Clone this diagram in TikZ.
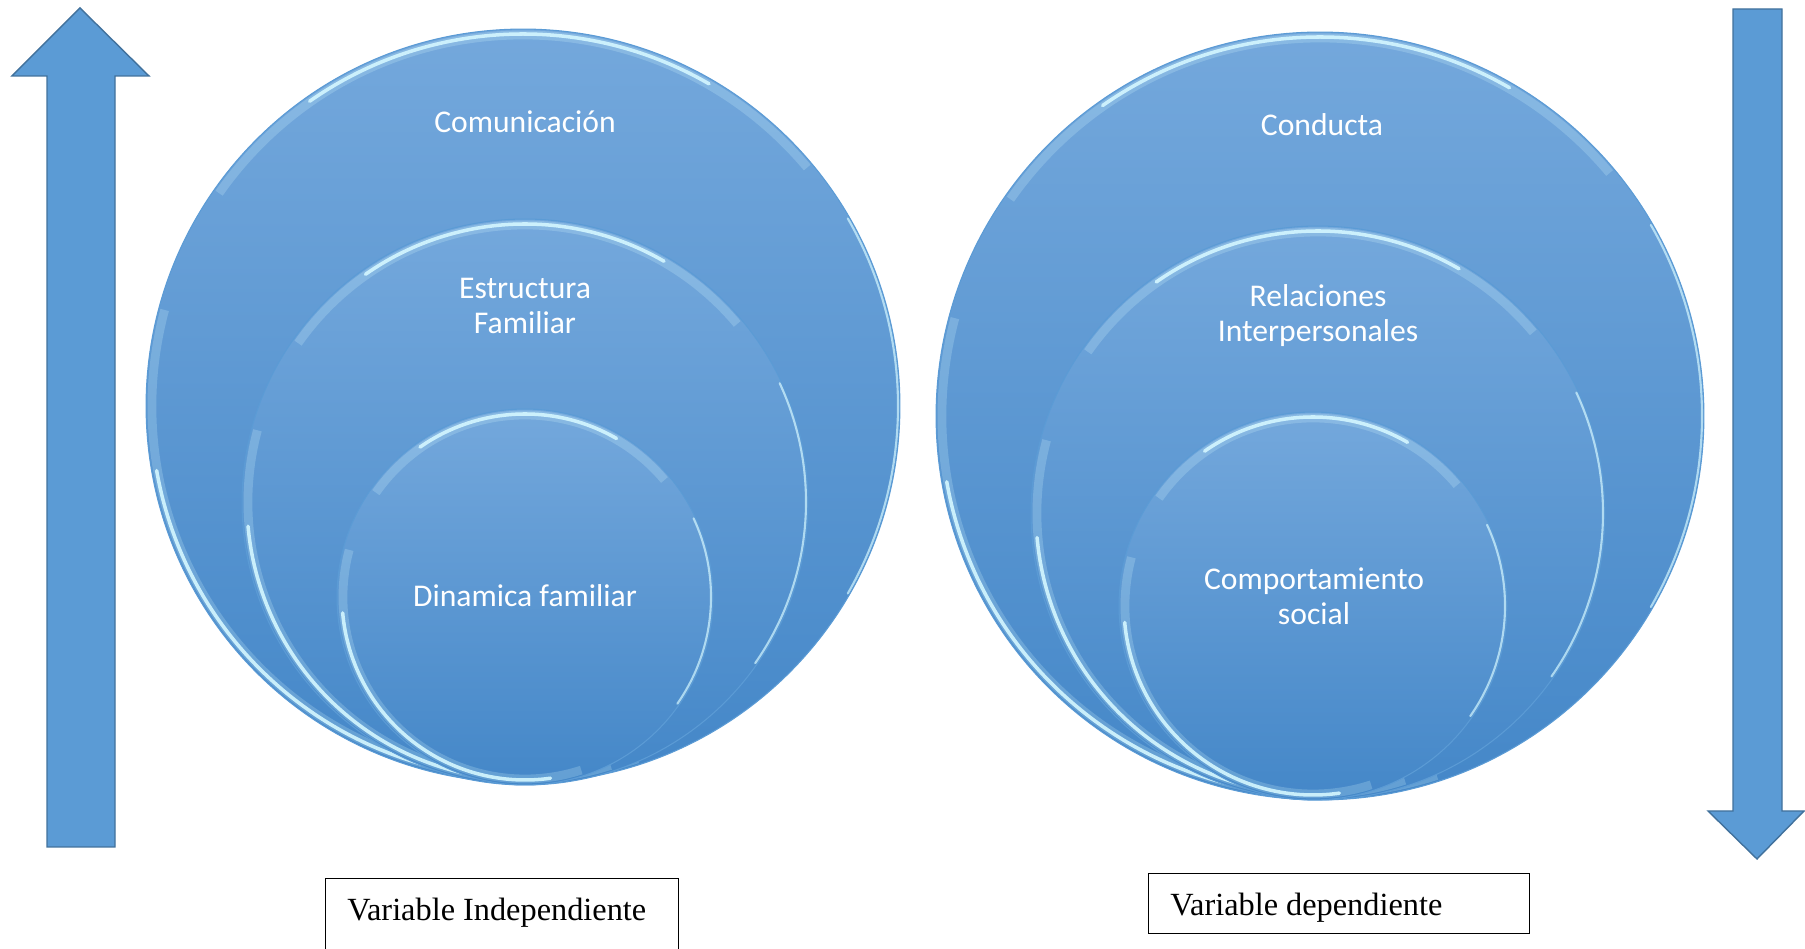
\documentclass[tikz,border=0pt]{standalone}
\usepackage{fontspec}
\setmainfont{Liberation Serif}
\newfontfamily\circfont{Carlito}
\usetikzlibrary{calc}

\definecolor{arrowfill}{HTML}{5B9BD5}
\definecolor{arrowline}{HTML}{41719C}
\definecolor{ringtop}{HTML}{74A8DC}
\definecolor{ringbottom}{HTML}{4487C8}
\definecolor{ringedge}{HTML}{5B9BD5}
\definecolor{glosscol}{HTML}{D4F7FF}

\tikzset{
  ring/.style={circle, draw=ringedge, line width=0.6pt, top color=ringtop, bottom color=ringbottom, inner sep=0pt, outer sep=0pt},
  halo/.style={draw=glosscol, line width=5pt, line cap=butt, opacity=0.22},
  gloss/.style={draw=glosscol, line width=2pt, line cap=round, opacity=0.9},
  softgloss/.style={draw=glosscol, line width=1.2pt, line cap=round, opacity=0.7},
  lbl/.style={text=white, font=\circfont\fontsize{18}{20}\selectfont, align=center},
  varbox/.style={draw=black, line width=0.7pt, inner sep=0pt, anchor=north west},
  vartext/.style={font=\fontsize{18.4}{21}\selectfont, anchor=base west, inner sep=0pt},
  bigarrow/.style={fill=arrowfill, draw=arrowline, line width=0.8pt, line join=miter}
}

\begin{document}
\begin{tikzpicture}[x=0.02cm, y=0.02cm]
    \useasboundingbox (0,0) rectangle (1805,949);
    \clip (0,0) rectangle (1805,949);

    % arrows
    \draw[bigarrow] (80,941) -- (149,873) -- (115,873) -- (115,102) -- (47,102) -- (47,873) -- (12,873) -- cycle;
    \draw[bigarrow] (1733,940) -- (1782,940) -- (1782,138) -- (1804,138) -- (1757,90) -- (1708,138) -- (1733,138) -- cycle;

    % left circles
    \node[ring, minimum size=15.08cm] (Lbig) at (523,543) {};
    \draw[halo] ([shift={(165:371)}]Lbig.center) arc[start angle=165, end angle=288, radius=371];
    \draw[halo] ([shift={(40:371)}]Lbig.center) arc[start angle=40, end angle=145, radius=371];
    \draw[gloss] ([shift={(190:372)}]Lbig.center) arc[start angle=190, end angle=278, radius=372];
    \draw[gloss] ([shift={(60:372)}]Lbig.center) arc[start angle=60, end angle=125, radius=372];
    \draw[softgloss] ([shift={(-30:375)}]Lbig.center) arc[start angle=-30, end angle=30, radius=375];
    \node[ring, minimum size=11.32cm] (Lmid) at (525,447) {};
    \draw[halo] ([shift={(165:277)}]Lmid.center) arc[start angle=165, end angle=288, radius=277];
    \draw[halo] ([shift={(40:277)}]Lmid.center) arc[start angle=40, end angle=145, radius=277];
    \draw[gloss] ([shift={(185:278)}]Lmid.center) arc[start angle=185, end angle=278, radius=278];
    \draw[gloss] ([shift={(60:278)}]Lmid.center) arc[start angle=60, end angle=125, radius=278];
    \draw[softgloss] ([shift={(-35:281)}]Lmid.center) arc[start angle=-35, end angle=25, radius=281];
    \node[ring, minimum size=7.52cm] (Lin) at (525,352) {};
    \draw[halo] ([shift={(165:182)}]Lin.center) arc[start angle=165, end angle=288, radius=182];
    \draw[halo] ([shift={(40:182)}]Lin.center) arc[start angle=40, end angle=145, radius=182];
    \draw[gloss] ([shift={(185:183)}]Lin.center) arc[start angle=185, end angle=278, radius=183];
    \draw[gloss] ([shift={(60:183)}]Lin.center) arc[start angle=60, end angle=125, radius=183];
    \draw[softgloss] ([shift={(-35:186)}]Lin.center) arc[start angle=-35, end angle=25, radius=186];

    % right circles
    \node[ring, minimum size=15.36cm] (Rbig) at (1320,533) {};
    \draw[halo] ([shift={(165:378)}]Rbig.center) arc[start angle=165, end angle=288, radius=378];
    \draw[halo] ([shift={(40:378)}]Rbig.center) arc[start angle=40, end angle=145, radius=378];
    \draw[gloss] ([shift={(190:379)}]Rbig.center) arc[start angle=190, end angle=278, radius=379];
    \draw[gloss] ([shift={(60:379)}]Rbig.center) arc[start angle=60, end angle=125, radius=379];
    \draw[softgloss] ([shift={(-30:382)}]Rbig.center) arc[start angle=-30, end angle=30, radius=382];
    \node[ring, minimum size=11.48cm] (Rmid) at (1318,436) {};
    \draw[halo] ([shift={(165:281)}]Rmid.center) arc[start angle=165, end angle=288, radius=281];
    \draw[halo] ([shift={(40:281)}]Rmid.center) arc[start angle=40, end angle=145, radius=281];
    \draw[gloss] ([shift={(185:282)}]Rmid.center) arc[start angle=185, end angle=278, radius=282];
    \draw[gloss] ([shift={(60:282)}]Rmid.center) arc[start angle=60, end angle=125, radius=282];
    \draw[softgloss] ([shift={(-35:285)}]Rmid.center) arc[start angle=-35, end angle=25, radius=285];
    \node[ring, minimum size=7.76cm] (Rin) at (1313,343) {};
    \draw[halo] ([shift={(165:188)}]Rin.center) arc[start angle=165, end angle=288, radius=188];
    \draw[halo] ([shift={(40:188)}]Rin.center) arc[start angle=40, end angle=145, radius=188];
    \draw[gloss] ([shift={(185:189)}]Rin.center) arc[start angle=185, end angle=278, radius=189];
    \draw[gloss] ([shift={(60:189)}]Rin.center) arc[start angle=60, end angle=125, radius=189];
    \draw[softgloss] ([shift={(-35:192)}]Rin.center) arc[start angle=-35, end angle=25, radius=192];

    % labels
    \node[lbl] (comu) at (525,827) {Comunicación};
    \node[lbl] (estr) at (525,643) {Estructura\\Familiar};
    \node[lbl] (dina) at (525,353) {Dinamica familiar};
    \node[lbl] (cond) at (1322,824) {Conducta};
    \node[lbl] (rela) at (1318,633) {Relaciones\\Interpersonales};
    \node[lbl] (comp) at (1314,353) {Comportamiento\\social};

    % boxes
    \node[varbox, minimum width=7.06cm, minimum height=2cm] (indepbox) at (325,71) {};
    \node[vartext] (indep) at (347,28) {Variable Independiente};
    \node[varbox, minimum width=7.62cm, minimum height=1.2cm] (depbox) at (1148,76) {};
    \node[vartext] (dep) at (1170,33) {Variable dependiente};
\end{tikzpicture}
\end{document}
